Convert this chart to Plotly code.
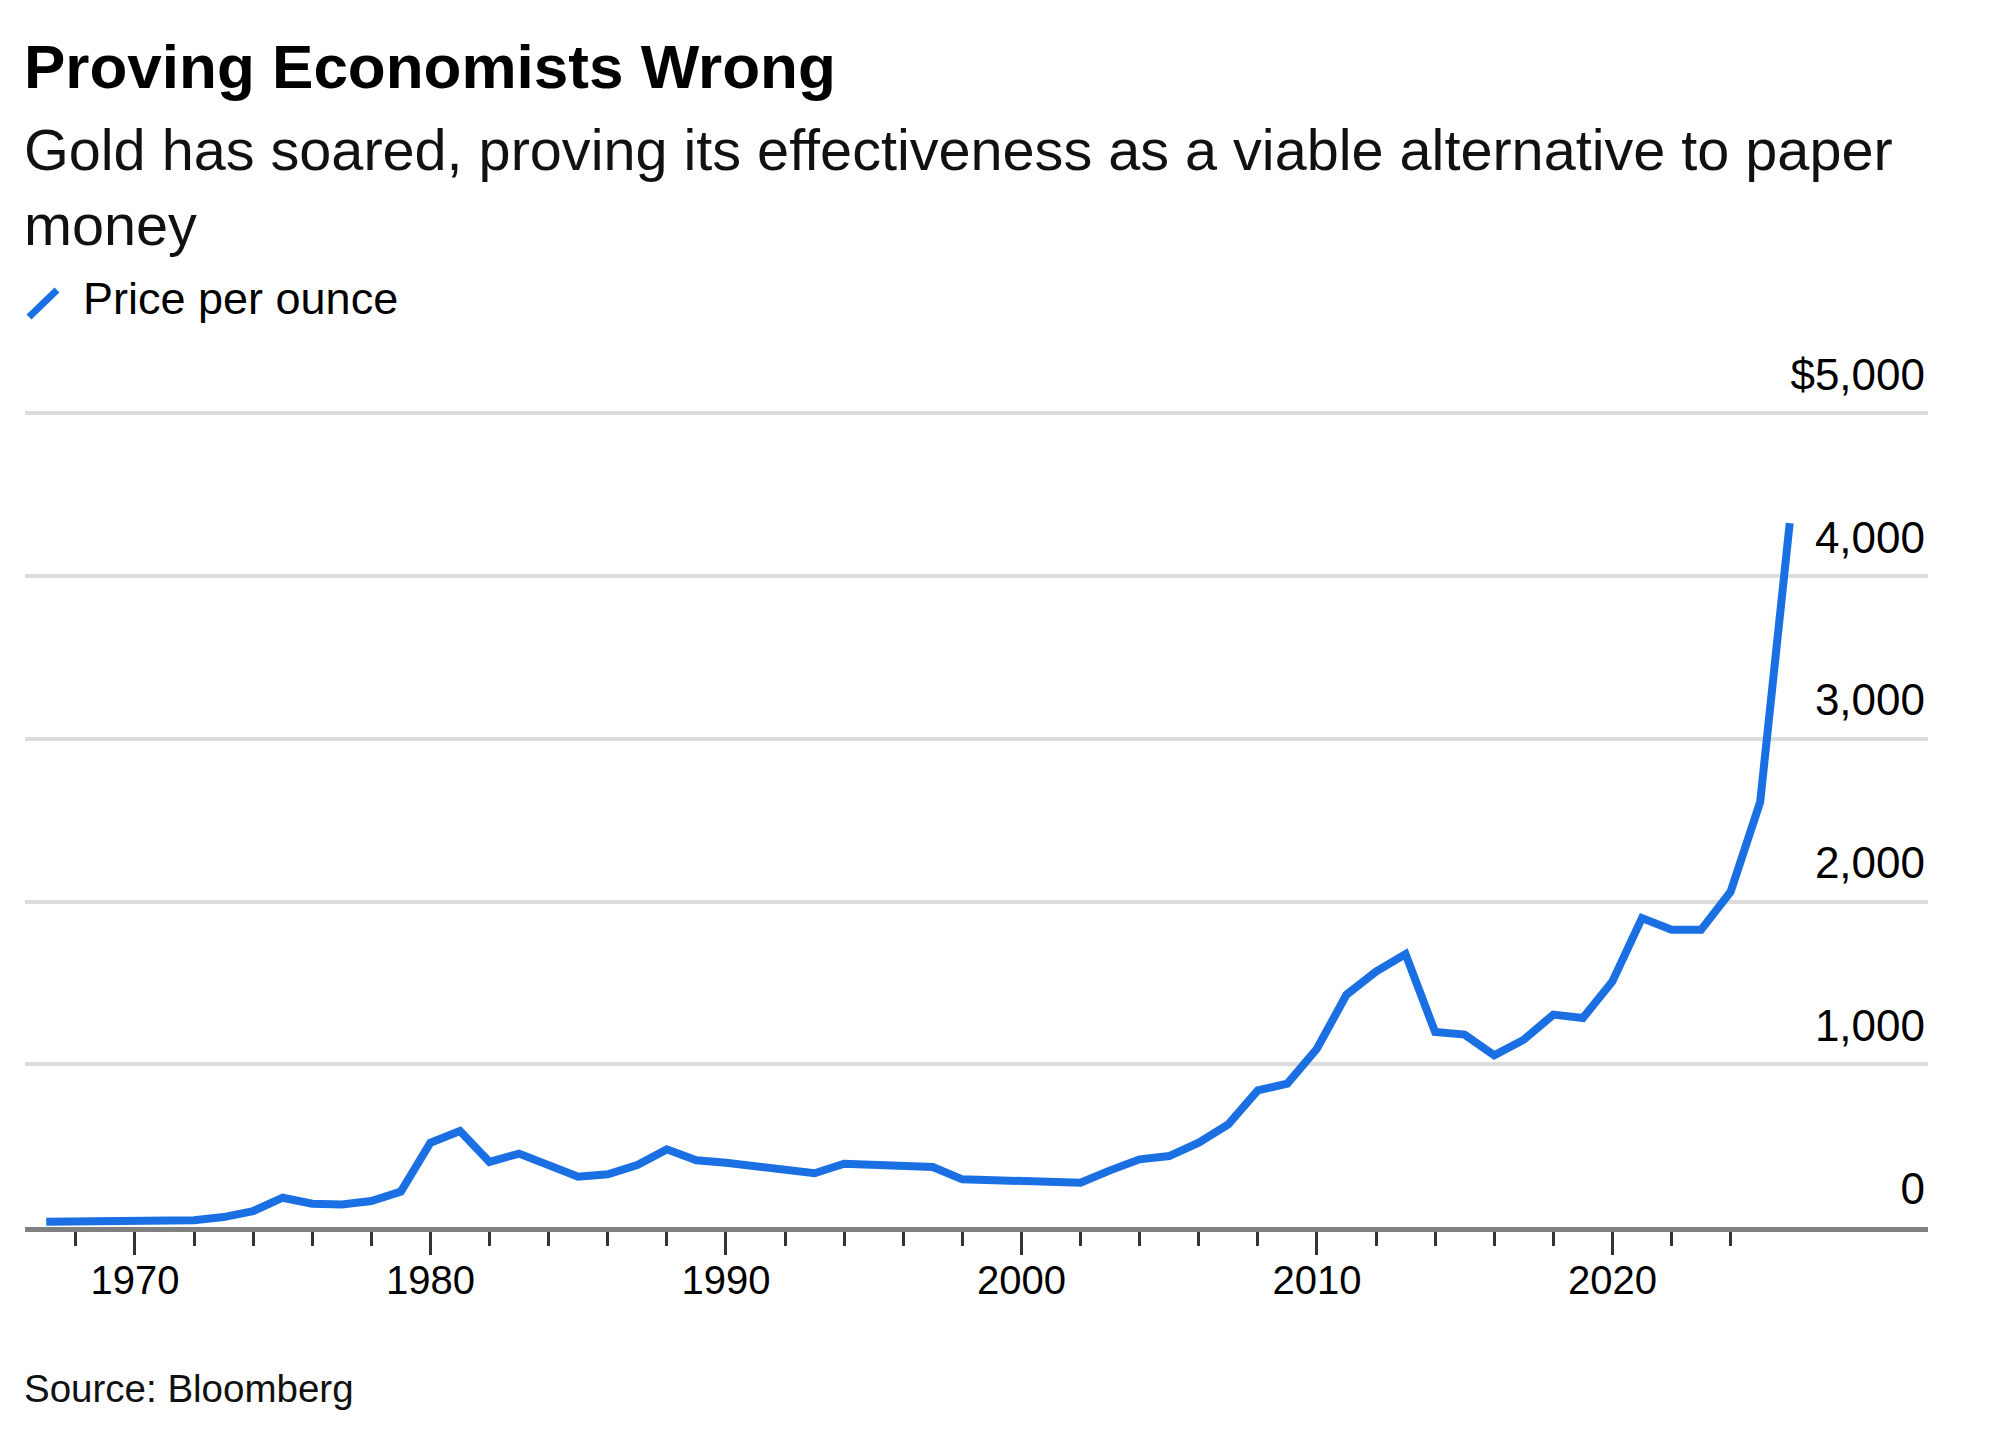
import plotly.graph_objects as go

# ---- data ----
years = list(range(1967, 2027))
price = [33, 37, 41, 37, 37, 41, 61, 98, 180, 143,
         139, 160, 217, 518, 590, 400, 451, 381, 309, 324,
         381, 477, 410, 395, 371, 348, 330, 389, 385, 385,
         369, 293, 287, 287, 272, 272, 348, 416, 436, 518,
         631, 840, 881, 1095, 1427, 1570, 1677, 1198, 1182, 1055,
         1151, 1305, 1284, 1509, 1898, 1826, 1826, 2060, 2611, 4325]

x_major = [1970, 1980, 1990, 2000, 2010, 2020]
x_major_text = ["1970", "1980", "1990", "2000", "2010", "2020"]
x_minor = [1968, 1972, 1974, 1976, 1978, 1982, 1984, 1986, 1988, 1992, 1994,
           1996, 1998, 2002, 2004, 2006, 2008, 2012, 2014, 2016, 2018, 2022, 2024]
y_ticks = [0, 1000, 2000, 3000, 4000, 5000]
y_ticktext = ["0", "1,000", "2,000", "3,000", "4,000", "$5,000"]

title = "Proving Economists Wrong"
subtitle = "Gold has soared, proving its effectiveness as a viable alternative to paper<br>money"
legend_label = "Price per ounce"
source = "Source: Bloomberg"

BLUE = "#1a6fe3"
FONT = "Liberation Sans, Arial, sans-serif"

W, H = 2000, 1438
L, R, T, B = 17, 80, 389, 219
PW, PH = W - L - R, H - T - B
Y_MAX = 5100


def px(x):
    return (x - L) / PW


def py(y):
    return (H - B - y) / PH


fig = go.Figure()
fig.add_trace(go.Scatter(x=years, y=price, mode="lines",
                         line=dict(color=BLUE, width=8), name=legend_label,
                         showlegend=False))

fig.update_layout(
    width=W, height=H,
    margin=dict(l=L, r=R, t=T, b=B, autoexpand=False),
    paper_bgcolor="white", plot_bgcolor="white",
    font=dict(family=FONT, color="#000"),
    showlegend=False,
)

fig.update_xaxes(
    range=[1966.28, 2030.68],
    tickmode="array", tickvals=x_major, ticktext=x_major_text,
    ticks="outside", ticklen=23, tickwidth=3, tickcolor="#333",
    tickfont=dict(size=40, color="#000", family=FONT),
    ticklabelstandoff=-9,
    showgrid=False, zeroline=False,
    showline=True, linecolor="#808080", linewidth=5,
    minor=dict(tickmode="array", tickvals=x_minor, ticks="outside",
               ticklen=14, tickwidth=3, tickcolor="#333", showgrid=False),
)

fig.update_yaxes(
    range=[0, Y_MAX], side="right",
    tickmode="array", tickvals=y_ticks, ticktext=y_ticktext,
    ticklabelposition="inside top", ticklabeloverflow="allow",
    ticks="", ticklabelshift=-8, ticklabelstandoff=0,
    tickfont=dict(size=44, color="#000", family=FONT),
    showgrid=True, gridcolor="#dcdcdc", gridwidth=4,
    zeroline=False, showline=False,
)

ann = dict(xref="paper", yref="paper", xanchor="left", yanchor="top",
           showarrow=False, align="left")
fig.add_annotation(x=px(14), y=py(22), text=f"<b>{title}</b>",
                   font=dict(size=62, color="#000", family=FONT), **ann)
fig.add_annotation(x=px(14), y=py(108), text=subtitle,
                   font=dict(size=57.6, color="#111", family=FONT), **ann)
fig.add_annotation(x=px(73), y=py(263), text=legend_label,
                   font=dict(size=45, color="#000", family=FONT), **ann)
fig.add_annotation(x=px(14), y=py(1357), text=source,
                   font=dict(size=38.5, color="#111", family=FONT), **ann)

# legend swatch (slash)
fig.add_shape(type="line", xref="paper", yref="paper",
              x0=px(21), y0=py(309), x1=px(49), y1=py(282),
              line=dict(color=BLUE, width=7))

fig.write_html("out.html")
